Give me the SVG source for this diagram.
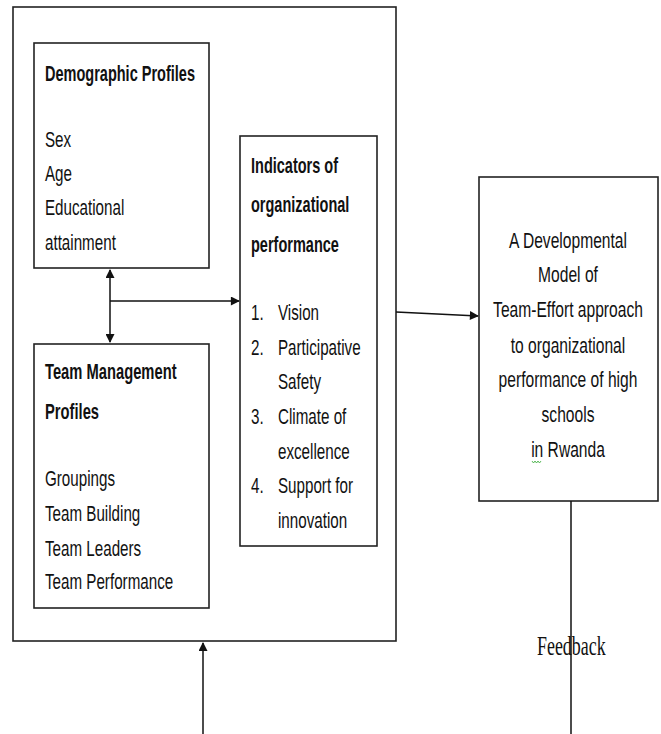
<svg xmlns="http://www.w3.org/2000/svg" width="661" height="734" viewBox="0 0 661 734">
<style>
.box{fill:#fff;stroke:#222;stroke-width:1.6}
.t{font-family:"Liberation Sans",Arial,sans-serif;font-size:22px;fill:#111}
.b{font-weight:bold}
.c{text-anchor:middle}
.ln{stroke:#111;stroke-width:1.5;fill:none}
.fb{font-family:"Liberation Serif","Times New Roman",serif;font-size:28px;fill:#111}
</style>
<defs>
<marker id="ah" viewBox="0 0 10 10" refX="9" refY="5" markerWidth="10" markerHeight="9" markerUnits="userSpaceOnUse" orient="auto-start-reverse">
<path d="M0,0 L10,5 L0,10 z" fill="#111"/>
</marker>
</defs>
<rect width="661" height="734" fill="#fff"/>
<g id="outer"><rect class="box" x="13" y="7" width="383" height="634"/></g>
<g id="demographic">
<rect class="box" x="34" y="43" width="175" height="225"/>
<text class="t b" transform="translate(45,81) scale(0.66,1)">Demographic Profiles</text>
<text class="t" transform="translate(45,147) scale(0.69,1)">Sex</text>
<text class="t" transform="translate(45,181) scale(0.69,1)">Age</text>
<text class="t" transform="translate(45,215) scale(0.69,1)">Educational</text>
<text class="t" transform="translate(45,250) scale(0.69,1)">attainment</text>
</g>
<g id="team">
<rect class="box" x="34" y="344" width="175" height="264"/>
<text class="t b" transform="translate(45,379) scale(0.67,1)">Team Management</text>
<text class="t b" transform="translate(45,419) scale(0.67,1)">Profiles</text>
<text class="t" transform="translate(45,486) scale(0.69,1)">Groupings</text>
<text class="t" transform="translate(45,521) scale(0.69,1)">Team Building</text>
<text class="t" transform="translate(45,556) scale(0.69,1)">Team Leaders</text>
<text class="t" transform="translate(45,589) scale(0.69,1)">Team Performance</text>
</g>
<g id="indicators">
<rect class="box" x="240" y="136" width="137" height="410"/>
<text class="t b" transform="translate(251,173) scale(0.66,1)">Indicators of</text>
<text class="t b" transform="translate(251,212) scale(0.66,1)">organizational</text>
<text class="t b" transform="translate(251,252) scale(0.66,1)">performance</text>
<text class="t" transform="translate(251,320) scale(0.69,1)">1.</text>
<text class="t" transform="translate(278,320) scale(0.69,1)">Vision</text>
<text class="t" transform="translate(251,355) scale(0.69,1)">2.</text>
<text class="t" transform="translate(278,355) scale(0.69,1)">Participative</text>
<text class="t" transform="translate(278,389) scale(0.69,1)">Safety</text>
<text class="t" transform="translate(251,424) scale(0.69,1)">3.</text>
<text class="t" transform="translate(278,424) scale(0.69,1)">Climate of</text>
<text class="t" transform="translate(278,459) scale(0.69,1)">excellence</text>
<text class="t" transform="translate(251,493) scale(0.69,1)">4.</text>
<text class="t" transform="translate(278,493) scale(0.69,1)">Support for</text>
<text class="t" transform="translate(278,528) scale(0.69,1)">innovation</text>
</g>
<g id="model">
<rect class="box" x="479" y="177" width="179" height="324"/>
<text class="t c" transform="translate(568,248) scale(0.71,1)">A Developmental</text>
<text class="t c" transform="translate(568,282) scale(0.71,1)">Model of</text>
<text class="t c" transform="translate(568,317) scale(0.71,1)">Team-Effort approach</text>
<text class="t c" transform="translate(568,353) scale(0.71,1)">to organizational</text>
<text class="t c" transform="translate(568,387) scale(0.71,1)">performance of high</text>
<text class="t c" transform="translate(568,422) scale(0.71,1)">schools</text>
<text class="t c" transform="translate(568,457) scale(0.71,1)">in Rwanda</text>
<path d="M532,461 l1.5,2 l1.5,-2 l1.5,2 l1.5,-2 l1.5,2 l1.5,-2" stroke="#3a3" stroke-width="0.8" fill="none"/>
</g>
<g id="connectors">
<line class="ln" x1="110" y1="270" x2="110" y2="342" marker-start="url(#ah)" marker-end="url(#ah)"/>
<line class="ln" x1="110" y1="301" x2="239" y2="301" marker-end="url(#ah)"/>
<line class="ln" x1="396" y1="312" x2="478" y2="316" marker-end="url(#ah)"/>
<line class="ln" x1="203" y1="734" x2="203" y2="643" marker-end="url(#ah)"/>
<line class="ln" x1="571" y1="501" x2="571" y2="734" stroke="#444"/>
</g>
<g id="feedback">
<text class="fb" transform="translate(537,655) scale(0.64,1)">Feedback</text>
</g>
</svg>
